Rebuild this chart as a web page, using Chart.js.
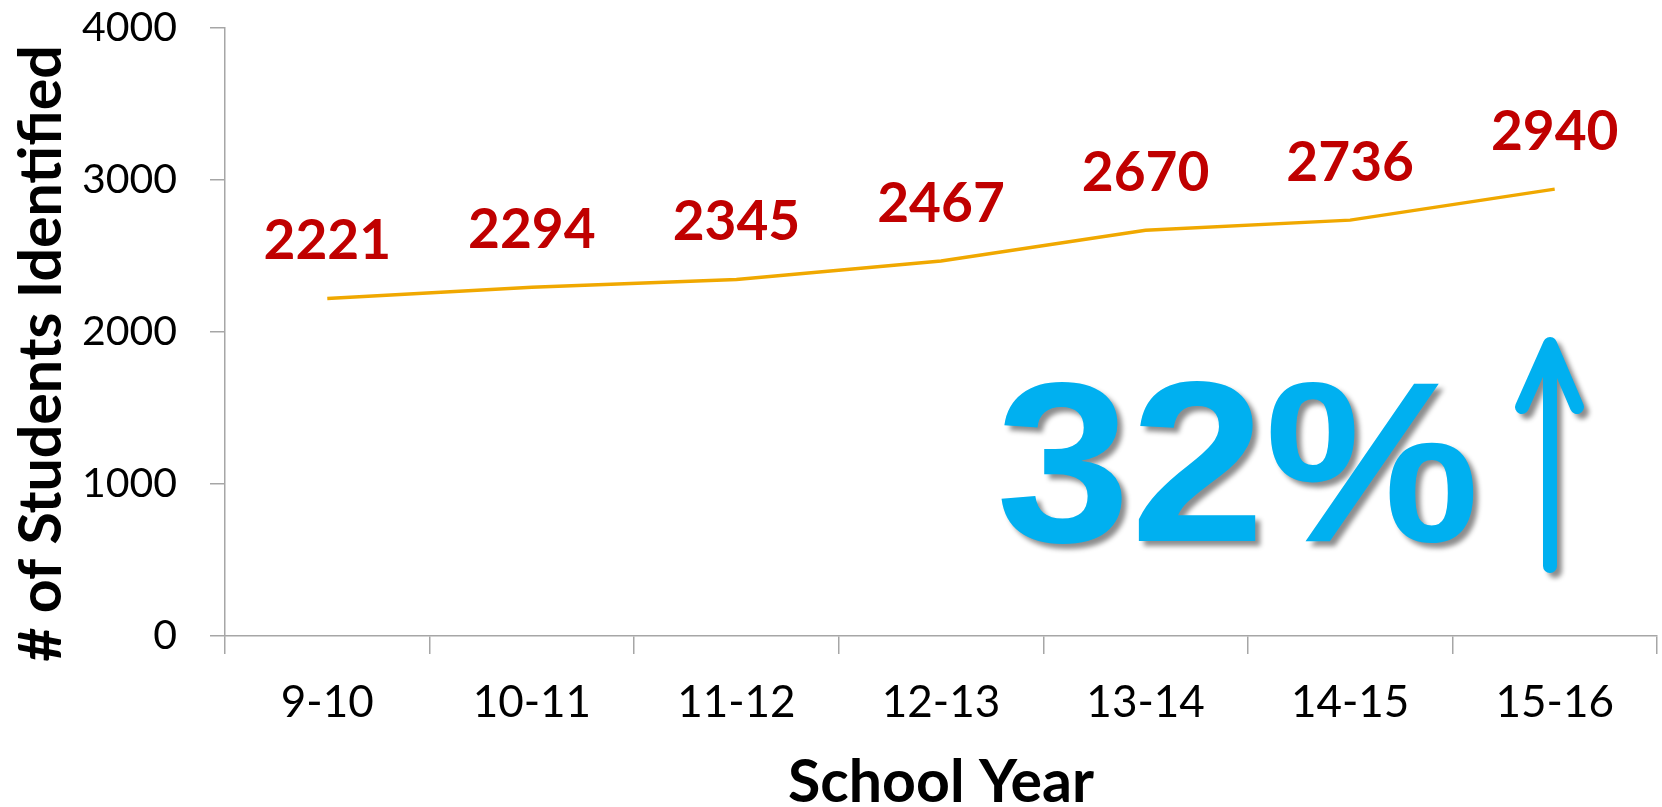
<!DOCTYPE html>
<html>
<head>
<meta charset="utf-8">
<script src="https://cdn.jsdelivr.net/npm/chart.js@4.4.1/dist/chart.umd.min.js"></script>
<style>
  html, body { margin: 0; padding: 0; background: #fff; }
  #wrap { width: 1662px; height: 807px; }
</style>
</head>
<body>
<div id="wrap"><canvas id="trendChart" width="1662" height="807"></canvas></div>
<script>
// data
const schoolYears = ['9-10', '10-11', '11-12', '12-13', '13-14', '14-15', '15-16'];
const studentsIdentified = [2221, 2294, 2345, 2467, 2670, 2736, 2940];
const yTicks = [0, 1000, 2000, 3000, 4000];
const growthLabel = '32%';

const axisGray = '#A6A6A6';

// value labels above every point
const valueLabels = {
  id: 'valueLabels',
  afterDatasetsDraw(chart) {
    const ctx = chart.ctx;
    const meta = chart.getDatasetMeta(0);
    ctx.save();
    ctx.font = 'bold 55px Lato, "Open Sans", sans-serif';
    ctx.fillStyle = '#C00000';
    ctx.textAlign = 'center';
    ctx.textBaseline = 'middle';
    meta.data.forEach((pt, i) => {
      ctx.fillText(String(studentsIdentified[i]), pt.x, pt.y - 57);
    });
    ctx.restore();
  }
};

// big "32%" call-out with the up arrow
const growthCallout = {
  id: 'growthCallout',
  afterDraw(chart) {
    const ctx = chart.ctx;
    ctx.save();
    ctx.shadowColor = 'rgba(0,0,0,0.45)';
    ctx.shadowOffsetX = 5;
    ctx.shadowOffsetY = 5;
    ctx.shadowBlur = 5;
    ctx.fillStyle = '#00B0F0';
    ctx.font = 'bold 228px "Liberation Sans", Arial, sans-serif';
    ctx.textAlign = 'left';
    ctx.textBaseline = 'alphabetic';
    ctx.save();
    ctx.translate(996, 541);
    ctx.scale(1.06, 1);
    ctx.fillText(growthLabel, 0, 0);
    ctx.restore();

    // arrow
    ctx.strokeStyle = '#00B0F0';
    ctx.lineWidth = 14;
    ctx.lineCap = 'round';
    ctx.lineJoin = 'round';
    ctx.beginPath();
    ctx.moveTo(1550, 566);
    ctx.lineTo(1550, 346);
    ctx.moveTo(1522, 407);
    ctx.lineTo(1550, 344);
    ctx.lineTo(1577, 407);
    ctx.stroke();
    ctx.restore();
  }
};

const ctx = document.getElementById('trendChart').getContext('2d');
new Chart(ctx, {
  type: 'line',
  data: {
    labels: schoolYears,
    datasets: [{
      label: '# of Students Identified',
      data: studentsIdentified,
      borderColor: '#F0A800',
      borderWidth: 3.5,
      pointRadius: 0,
      tension: 0,
      fill: false
    }]
  },
  options: {
    responsive: false,
    animation: false,
    layout: { padding: { top: 0, right: 5, left: 0, bottom: 0 } },
    plugins: {
      legend: { display: false },
      tooltip: { enabled: false }
    },
    scales: {
      x: {
        offset: true,
        grid: {
          offset: true,
          drawOnChartArea: false,
          drawTicks: true,
          tickLength: 18,
          color: axisGray,
          lineWidth: 1.5
        },
        border: { color: axisGray, width: 1.5 },
        ticks: {
          color: '#000',
          padding: 22,
          maxRotation: 0,
          font: { family: 'Lato, "Open Sans", sans-serif', size: 44 }
        },
        title: {
          display: true,
          text: 'School Year',
          color: '#000',
          padding: { top: 0, bottom: 0 },
          font: { family: 'Lato, "Open Sans", sans-serif', size: 59, weight: 'bold', lineHeight: 0.8 }
        },
        afterFit(scale) { scale.height = 171; }
      },
      y: {
        min: 0,
        max: 4000,
        afterBuildTicks(scale) { scale.ticks = yTicks.map(v => ({ value: v })); },
        grid: {
          drawOnChartArea: false,
          drawTicks: true,
          tickLength: 15,
          color: axisGray,
          lineWidth: 1.5
        },
        border: { color: axisGray, width: 1.5 },
        ticks: {
          color: '#000',
          padding: 33,
          callback: (v) => String(v),
          font: { family: 'Lato, "Open Sans", sans-serif', size: 41 }
        },
        title: {
          display: true,
          text: '# of Students Identified   ',
          color: '#000',
          padding: { top: 12, bottom: 0 },
          font: { family: 'Lato, "Open Sans", sans-serif', size: 59, weight: 'bold', lineHeight: 1 }
        },
        afterFit(scale) {
          scale.width = 225;
          scale.paddingTop = 28;
        }
      }
    }
  },
  plugins: [valueLabels, growthCallout]
});
</script>
</body>
</html>
